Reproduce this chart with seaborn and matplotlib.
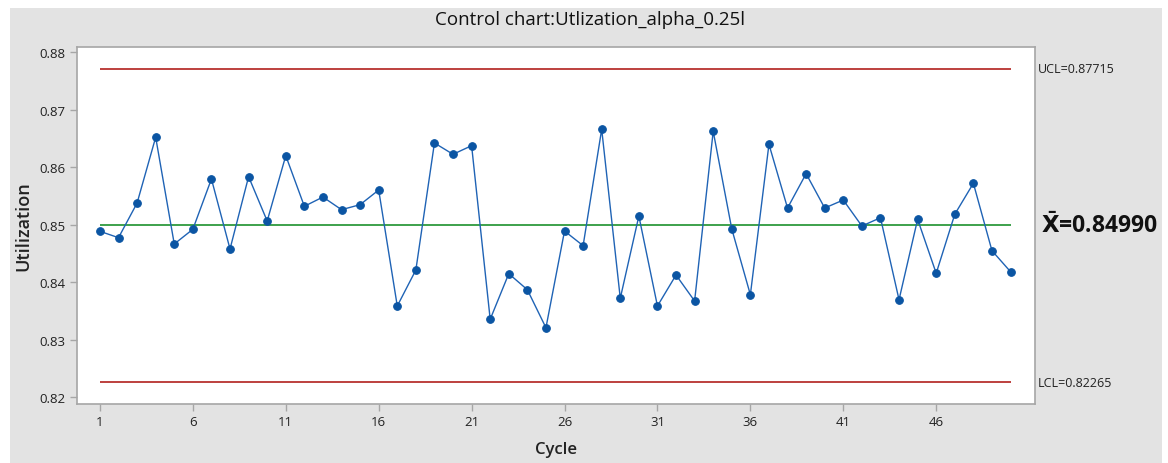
import numpy as np
import pandas as pd
import matplotlib
matplotlib.use("Agg")
import matplotlib.pyplot as plt
from matplotlib.patches import Rectangle
import seaborn as sns

# Utilization per cycle
cycles = list(range(1, 51))
utilization = [
    0.84887, 0.84776, 0.85379, 0.86522, 0.84666, 0.84922, 0.85797, 0.84579, 0.85837, 0.85066,
    0.86202, 0.85322, 0.85483, 0.85263, 0.85350, 0.85605, 0.83588, 0.84214, 0.86423, 0.86226,
    0.86376, 0.83357, 0.84150, 0.83871, 0.83210, 0.84892, 0.84637, 0.86661, 0.83722, 0.85153,
    0.83588, 0.84127, 0.83675, 0.86626, 0.84927, 0.83784, 0.86400, 0.85292, 0.85889, 0.85292,
    0.85431, 0.84979, 0.85123, 0.83697, 0.85096, 0.84157, 0.85183, 0.85722, 0.84550, 0.84184,
]
ucl = 0.87715
center = 0.84990
lcl = 0.82265
x_ticks = [1, 6, 11, 16, 21, 26, 31, 36, 41, 46]
y_ticks = [0.82, 0.83, 0.84, 0.85, 0.86, 0.87, 0.88]

df = pd.DataFrame({"Cycle": cycles, "Utilization": utilization})

sns.set_theme(style="white")
plt.rcParams["font.family"] = ["Open Sans", "DejaVu Sans"]

fig = plt.figure(figsize=(11.68, 4.64), dpi=100, facecolor="white")
# grey panel behind the chart
fig.patches.append(Rectangle((10 / 1168, 0), 1152 / 1168, 1 - 9 / 464,
                             transform=fig.transFigure, facecolor="#e3e3e3",
                             edgecolor="none", zorder=-5))

ax = fig.add_axes([76.7 / 1168, 1 - 405 / 464, (1034.7 - 76.7) / 1168, (405 - 47.7) / 464])
ax.set_zorder(2)
ax.set_facecolor("white")

ax.hlines([ucl, lcl], 1, 50, colors="#b8312f", linewidth=1.3, zorder=2)
ax.hlines(center, 1, 50, colors="#2e9a3e", linewidth=1.3, zorder=2)

sns.lineplot(data=df, x="Cycle", y="Utilization", ax=ax, color="#1f63b5",
             linewidth=1.0, marker="o", markersize=5.5, markerfacecolor="#0b55a3",
             markeredgecolor="#0b55a3", zorder=3)

ax.set_xlim(-0.25, 51.3)
ax.set_ylim(0.81884, 0.88097)
ax.set_xticks(x_ticks)
ax.set_xticklabels([str(t) for t in x_ticks])
ax.set_yticks(y_ticks)
ax.set_yticklabels([f"{t:.2f}" for t in y_ticks])

for s in ax.spines.values():
    s.set_color("#a6a6a6")
    s.set_linewidth(1.2)
ax.tick_params(axis="both", which="major", direction="out", length=5, width=1,
               color="#a6a6a6", labelsize=9.5, labelcolor="#222222", pad=3,
               bottom=True, left=True)

ax.set_xlabel("Cycle", fontsize=12, fontweight="semibold", color="#222222", labelpad=9)
ax.set_ylabel("Utilization", fontsize=13, fontweight="semibold", color="#222222", labelpad=5)

fig.text(590 / 1168, 1 - 20 / 464, "Control chart:Utlization_alpha_0.25l",
         ha="center", va="center", fontsize=13.5, color="#111111")

# limit annotations at the right of the plot
ax.text(1.003, ucl, f"UCL={ucl:.5f}", transform=ax.get_yaxis_transform(),
        ha="left", va="center", fontsize=9, color="#222222")
ax.text(1.003, lcl, f"LCL={lcl:.5f}", transform=ax.get_yaxis_transform(),
        ha="left", va="center", fontsize=9, color="#222222")
ax.text(1.007, center, f"$\\mathbf{{\\bar{{X}}}}$={center:.5f}",
        transform=ax.get_yaxis_transform(), ha="left", va="center",
        fontsize=16.5, fontweight="bold", color="#111111")

fig.savefig("out.png", dpi=100, facecolor="white")
